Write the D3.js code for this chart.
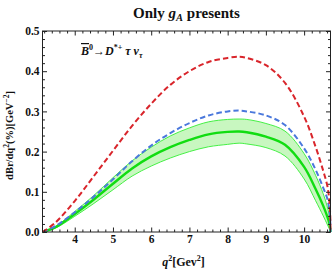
<!DOCTYPE html>
<html>
<head>
<meta charset="utf-8">
<script src="https://cdn.jsdelivr.net/npm/d3@7"></script>
<style>
  body { margin: 0; background: #fff; }
  svg text { font-family: "Liberation Serif", "DejaVu Serif", serif; font-weight: bold; }
</style>
</head>
<body>
<div id="chart"></div>
<script>
// q^2 grid (GeV^2) and curves
var q2 = [3.157, 3.5, 4.0, 4.5, 5.0, 5.5, 6.0, 6.5, 7.0, 7.5, 8.0, 8.3, 8.5, 9.0, 9.5, 10.0, 10.3, 10.5, 10.6, 10.65, 10.67, 10.685, 10.69];
var redDash  = [0, 0.024, 0.077, 0.139, 0.202, 0.264, 0.319, 0.366, 0.400, 0.423, 0.433, 0.436, 0.433, 0.415, 0.371, 0.287, 0.212, 0.152, 0.118, 0.088, 0.065, 0.035, 0];
var blueDash = [0, 0.015, 0.049, 0.088, 0.131, 0.176, 0.215, 0.246, 0.271, 0.290, 0.300, 0.302, 0.300, 0.290, 0.266, 0.208, 0.155, 0.110, 0.085, 0.062, 0.046, 0.022, 0];
var green    = [0, 0.012, 0.045, 0.081, 0.120, 0.158, 0.188, 0.211, 0.229, 0.243, 0.249, 0.250, 0.248, 0.237, 0.217, 0.162, 0.107, 0.065, 0.040, 0.025, 0.016, 0.006, 0];
var greenHi  = [0, 0.014, 0.051, 0.091, 0.135, 0.177, 0.211, 0.239, 0.259, 0.274, 0.280, 0.281, 0.280, 0.270, 0.251, 0.195, 0.141, 0.095, 0.065, 0.045, 0.032, 0.014, 0];
var greenLo  = [0, 0.010, 0.039, 0.071, 0.105, 0.139, 0.164, 0.184, 0.200, 0.212, 0.218, 0.221, 0.219, 0.210, 0.189, 0.132, 0.078, 0.040, 0.020, 0.010, 0.006, 0.002, 0];
var xTicks = [4, 5, 6, 7, 8, 9, 10];
var yTicks = [0.0, 0.1, 0.2, 0.3, 0.4, 0.5];

var W = 332, H = 274;
var margin = {top: 31, bottom: 42, left: 42.5, right: 1.5};
var width = W - margin.left - margin.right;
var height = H - margin.top - margin.bottom;

var svg = d3.select("#chart").append("svg")
    .attr("width", W).attr("height", H);
var g = svg.append("g")
    .attr("transform", "translate(" + margin.left + "," + margin.top + ")");

var x = d3.scaleLinear().domain([3.157, 10.69]).range([0, width]);
var y = d3.scaleLinear().domain([0, 0.5]).range([height, 0]);

var smooth = d3.curveCatmullRom.alpha(0.5);

var line = function(vals) {
    return d3.line()
        .x(function(d, i) { return x(q2[i]); })
        .y(function(d) { return y(d); })
        .curve(smooth)(vals);
};

// band between the two edges
var bandPts = q2.map(function(q, i) { return i; });
var area = d3.area()
    .x(function(i) { return x(q2[i]); })
    .y0(function(i) { return y(greenLo[i]); })
    .y1(function(i) { return y(greenHi[i]); })
    .curve(smooth);

g.append("path").attr("d", area(bandPts)).attr("fill", "#c8f7c0").attr("stroke", "none");
g.append("path").attr("d", line(greenHi)).attr("fill", "none").attr("stroke", "#33ee33").attr("stroke-width", 0.9);
g.append("path").attr("d", line(greenLo)).attr("fill", "none").attr("stroke", "#33ee33").attr("stroke-width", 0.9);
g.append("path").attr("d", line(green)).attr("fill", "none").attr("stroke", "#11dd11").attr("stroke-width", 2.4);

g.append("path").attr("d", line(blueDash)).attr("fill", "none")
    .attr("stroke", "#4a78dc").attr("stroke-width", 2).attr("stroke-dasharray", "5.5,3");
g.append("path").attr("d", line(redDash)).attr("fill", "none")
    .attr("stroke", "#d9252b").attr("stroke-width", 2).attr("stroke-dasharray", "5.5,3");

// frame
g.append("rect").attr("width", width).attr("height", height)
    .attr("fill", "none").attr("stroke", "#222").attr("stroke-width", 1);

// ticks on all four sides, pointing inward
var xMinor = d3.range(3.2, 10.7, 0.2).filter(function(v) { return Math.abs(v - Math.round(v)) > 0.01; });
var yMinor = d3.range(0.02, 0.5, 0.02).filter(function(v) { return Math.abs(v * 10 - Math.round(v * 10)) > 0.01; });

var bottomAx = d3.axisBottom(x).tickValues(xTicks).tickSize(-4.5).tickFormat(d3.format("d"));
var topAx = d3.axisTop(x).tickValues(xTicks).tickSize(-4.5).tickFormat("");
var leftAx = d3.axisLeft(y).tickValues(yTicks).tickSize(-4.5).tickFormat(d3.format(".1f"));
var rightAx = d3.axisRight(y).tickValues(yTicks).tickSize(-4.5).tickFormat("");

function styleAxis(sel) {
    sel.select(".domain").remove();
    sel.selectAll("line").attr("stroke", "#222");
    sel.selectAll("text").attr("fill", "#111").style("font-size", "11.5px");
}

g.append("g").attr("transform", "translate(0," + height + ")").call(bottomAx).call(styleAxis)
    .selectAll("text").attr("dy", "0.3em").attr("y", 7.5);
g.append("g").call(topAx).call(styleAxis);
g.append("g").call(leftAx).call(styleAxis).selectAll("text").attr("x", -3);
g.append("g").attr("transform", "translate(" + width + ",0)").call(rightAx).call(styleAxis);

g.append("g").attr("transform", "translate(0," + height + ")")
    .call(d3.axisBottom(x).tickValues(xMinor).tickSize(-2.5).tickFormat("")).call(styleAxis);
g.append("g")
    .call(d3.axisTop(x).tickValues(xMinor).tickSize(-2.5).tickFormat("")).call(styleAxis);
g.append("g")
    .call(d3.axisLeft(y).tickValues(yMinor).tickSize(-2.5).tickFormat("")).call(styleAxis);
g.append("g").attr("transform", "translate(" + width + ",0)")
    .call(d3.axisRight(y).tickValues(yMinor).tickSize(-2.5).tickFormat("")).call(styleAxis);

// title
var title = svg.append("text").attr("x", margin.left + width / 2).attr("y", 18)
    .attr("text-anchor", "middle").style("font-size", "15px").attr("fill", "#111");
title.append("tspan").text("Only ");
title.append("tspan").style("font-style", "italic").text("g");
title.append("tspan").style("font-style", "italic").style("font-size", "10.5px").attr("dy", 3).text("A");
title.append("tspan").attr("dy", -3).text(" presents");

// x label
var xl = svg.append("text").attr("x", margin.left + width / 2 - 3).attr("y", 266)
    .attr("text-anchor", "middle").style("font-size", "12px").attr("fill", "#111");
xl.append("tspan").style("font-style", "italic").text("q");
xl.append("tspan").style("font-size", "8px").attr("dy", -5).text("2");
xl.append("tspan").attr("dy", 5).text("[Gev");
xl.append("tspan").style("font-size", "8px").attr("dy", -5).text("2");
xl.append("tspan").attr("dy", 5).text("]");

// y label
var yl = svg.append("text")
    .attr("transform", "translate(13," + (margin.top + height / 2 + 4) + ") rotate(-90)")
    .attr("text-anchor", "middle").style("font-size", "10.5px").attr("fill", "#111");
yl.append("tspan").text("dBr/dq");
yl.append("tspan").style("font-size", "7.5px").attr("dy", -4).text("2");
yl.append("tspan").attr("dy", 4).text("(%)[GeV");
yl.append("tspan").style("font-size", "7.5px").attr("dy", -4).text("\u22122");
yl.append("tspan").attr("dy", 4).text("]");

// process annotation
var ann = svg.append("text").attr("x", 81).attr("y", 55)
    .style("font-size", "12px").attr("fill", "#111");
ann.append("tspan").style("font-style", "italic").style("text-decoration", "overline").text("B");
ann.append("tspan").style("font-size", "8px").attr("dy", -5).text("0");
ann.append("tspan").attr("dy", 5).text("\u2192");
ann.append("tspan").style("font-style", "italic").text("D");
ann.append("tspan").style("font-size", "8px").attr("dy", -5).text("*+");
ann.append("tspan").attr("dy", 5).style("font-style", "italic").text(" \u03c4 \u03bd");
ann.append("tspan").style("font-size", "8px").style("font-style", "italic").attr("dy", 3).text("\u03c4");
</script>
</body>
</html>
